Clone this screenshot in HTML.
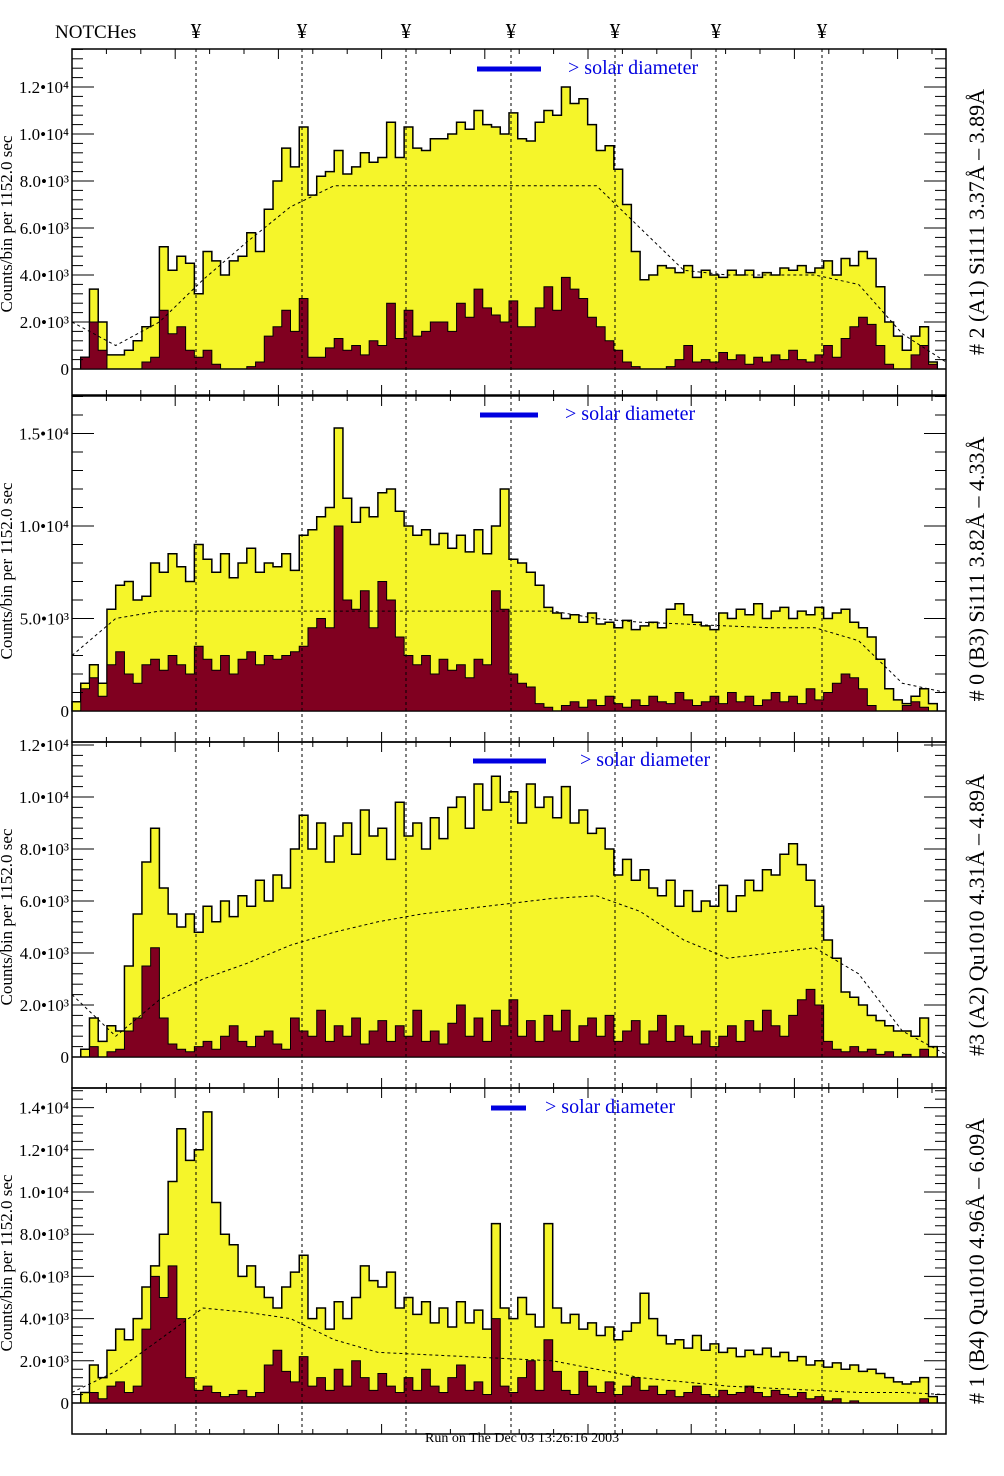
<!DOCTYPE html>
<html><head><meta charset="utf-8"><style>
body{margin:0;background:#fff}
svg{display:block;font-family:"Liberation Serif",serif}
</style></head><body>
<svg id="chart" width="1004" height="1476" viewBox="0 0 1004 1476" xmlns="http://www.w3.org/2000/svg">
<text x="55" y="38" font-size="19">NOTCHes</text>
<text x="425" y="1442" font-size="14">Run on The Dec 03 13:26:16 2003</text>
</svg>
<script>
const notches=[196,302,406,511,615,716,822];
const y1=[0,0.5,3.4,2.0,0.6,0.6,0.8,1.2,1.8,2.2,5.2,4.2,4.8,4.5,3.2,5.0,4.6,4.0,4.6,4.8,5.8,5.0,6.8,8.0,9.4,8.6,10.3,7.4,8.2,8.4,9.3,8.3,8.6,9.2,8.8,9.0,10.5,9.0,10.3,9.4,9.3,9.8,9.8,10.0,10.5,10.2,11.0,10.4,10.3,10.0,10.9,9.8,9.7,10.5,11.0,10.8,12.0,11.3,11.5,10.4,9.3,9.5,8.5,7.0,5.0,3.8,4.0,4.4,4.3,4.1,4.4,3.9,4.2,4.0,3.9,4.2,4.0,4.2,3.9,4.1,4.0,4.3,4.2,4.4,4.1,4.3,4.6,4.0,4.7,4.4,5.0,4.7,3.5,2.0,1.4,0.8,1.4,1.8,0.3,0];
const r1=[0,0.5,2.0,0.8,0,0,0,0,0.3,0.5,2.5,1.5,1.8,0.8,0.5,0.8,0.2,0,0,0,0.1,0.3,1.4,1.8,2.5,1.6,3.0,0.5,0.5,0.9,1.3,0.8,1.0,0.6,1.2,1.0,2.8,1.3,2.5,1.4,1.6,2.0,2.0,1.6,2.8,2.2,3.4,2.6,2.3,2.0,2.9,1.8,1.8,2.6,3.5,2.5,3.9,3.4,3.0,2.2,1.8,1.2,0.8,0.3,0.1,0,0,0,0.1,0.4,1.0,0.3,0.4,0.3,0.7,0.4,0.6,0.2,0.5,0.3,0.6,0.4,0.8,0.4,0.3,0.6,1.0,0.5,1.3,1.8,2.2,1.9,1.0,0.2,0,0,0.6,1.0,0.2,0];
const f1=[2.0,1.0,2.0,3.8,5.4,6.9,7.8,7.8,7.8,7.8,7.8,7.8,7.8,6.0,4.2,4.0,4.0,4.0,3.6,1.5,0.3];
const y2=[0.5,1.5,2.5,1.5,5.5,6.8,7.0,6.0,6.2,8.0,7.5,8.5,7.8,7.0,9.0,8.2,7.5,8.5,7.2,8.0,8.8,7.5,8.0,7.8,8.5,7.6,9.5,9.8,10.5,11.0,15.3,11.5,10.2,11.0,10.5,11.8,12.0,10.8,10.0,9.5,9.8,9.0,9.6,8.8,9.5,8.6,9.8,8.5,10.0,12.0,8.2,8.0,7.5,6.8,5.6,5.3,5.0,5.2,4.8,5.3,4.7,4.8,4.5,4.9,4.4,4.6,4.8,4.5,5.5,5.8,5.2,4.8,4.6,4.4,5.3,5.0,5.5,5.2,5.8,5.0,5.4,5.6,5.0,5.4,5.2,5.6,5.0,5.3,5.5,4.8,4.5,4.0,2.8,1.2,0.6,0.4,0.8,1.2,0.4,0];
const r2=[0,1.2,1.8,0.8,2.5,3.2,2.0,1.5,2.5,2.8,2.2,3.0,2.5,2.0,3.5,2.8,2.2,3.0,2.0,2.8,3.2,2.5,3.0,2.8,3.0,3.2,3.5,4.5,5.0,4.5,10.0,6.0,5.5,6.5,4.5,7.0,6.0,4.0,3.0,2.5,3.0,2.0,2.8,2.2,2.5,1.8,2.8,2.5,6.5,5.5,2.0,1.5,1.3,0.4,0.2,0,0.3,0.5,0.2,0.6,0.3,0.8,0.4,0.2,0.6,0.3,0.8,0.5,0.4,1.0,0.6,0.3,0.5,0.8,0.4,1.0,0.5,0.8,0.3,0.6,1.0,0.5,0.8,0.4,1.2,0.6,1.0,1.5,2.0,1.8,1.2,0.3,0,0,0,0.3,0.5,0.2,0,0];
const f2=[3.0,5.0,5.4,5.4,5.4,5.4,5.4,5.4,5.4,5.4,5.4,5.4,5.0,4.8,4.7,4.6,4.5,4.5,3.8,1.5,1.0];
const y3=[0,0.3,1.5,0.6,1.2,1.0,3.5,5.5,7.5,8.8,6.5,5.5,5.0,5.5,4.8,5.8,5.2,6.0,5.4,6.2,5.8,6.8,6.0,7.0,6.5,8.0,9.3,8.0,9.0,7.5,8.5,9.0,7.8,9.5,8.5,8.8,7.6,9.8,8.5,9.0,8.0,9.2,8.4,9.6,10.0,8.8,10.5,9.5,10.8,9.8,10.2,9.0,10.5,9.6,10.0,9.2,10.4,9.0,9.5,8.6,8.8,8.0,7.0,7.6,6.8,7.2,6.5,6.2,6.8,5.8,6.4,5.6,6.0,5.8,6.6,5.6,6.2,6.8,6.4,7.2,7.0,7.8,8.2,7.4,6.8,5.8,4.5,3.8,2.5,2.3,2.0,1.6,1.4,1.2,1.0,1.0,0.8,1.5,0.4,0];
const r3=[0,0,0.4,0,0.2,0.3,1.0,1.5,3.5,4.2,1.5,0.5,0.3,0.2,0.4,0.6,0.3,0.8,1.2,0.6,0.4,0.8,1.0,0.5,0.3,1.5,1.0,0.8,1.8,0.6,1.2,0.8,1.5,0.5,1.0,1.4,0.6,1.2,0.8,1.8,0.6,1.0,0.5,1.3,2.0,0.8,1.5,0.6,1.8,1.2,2.2,0.8,1.4,0.6,1.6,1.0,1.8,0.6,1.2,1.5,0.8,1.6,0.6,1.0,1.4,0.5,1.0,1.6,0.6,1.2,0.8,0.5,1.0,0.4,0.8,1.2,0.6,1.4,1.0,1.8,1.2,0.8,1.6,2.2,2.6,2.0,0.6,0.3,0.2,0.4,0.2,0.3,0.1,0.2,0,0.1,0,0.3,0,0];
const f3=[2.4,0.8,2.2,3.0,3.6,4.3,4.8,5.2,5.5,5.7,5.9,6.1,6.2,5.6,4.5,3.8,4.0,4.2,3.2,1.0,0.1];
const y4=[0,0.5,1.8,1.2,2.5,3.5,3.0,4.0,5.5,6.5,8.0,10.5,13.0,11.5,12.0,13.8,9.5,8.0,7.5,6.0,6.5,5.5,5.0,4.5,5.5,6.2,7.0,4.0,4.5,3.5,4.8,4.0,5.0,6.5,5.8,5.5,6.2,4.5,5.0,4.2,4.8,3.8,4.5,3.6,4.8,3.8,4.4,3.5,8.5,4.5,4.0,5.0,4.2,3.6,8.5,4.5,3.8,4.2,3.5,3.8,3.2,3.6,3.0,3.4,3.8,5.2,4.0,3.2,2.8,3.0,2.6,3.2,2.5,2.8,2.4,2.6,2.2,2.5,2.3,2.6,2.2,2.4,2.0,2.2,1.8,2.0,1.7,1.9,1.6,1.8,1.5,1.6,1.4,1.2,1.0,0.9,1.0,1.2,0.3,0];
const r4=[0,0,0.5,0.2,0.8,1.0,0.5,0.8,3.5,6.0,5.0,6.5,4.0,1.2,0.6,0.8,0.5,0.3,0.4,0.6,0.3,0.5,1.8,2.5,1.5,1.0,2.2,0.8,1.2,0.6,1.6,0.8,2.0,1.2,0.6,1.4,0.8,0.5,1.2,0.6,1.6,0.8,0.5,1.2,1.8,0.6,1.0,0.4,4.0,0.8,0.5,1.2,2.0,0.6,3.0,1.5,0.6,0.4,1.5,0.8,0.5,1.0,0.4,0.8,1.2,0.6,0.8,0.4,0.6,0.3,0.5,0.8,0.4,0.3,0.6,0.4,0.5,0.8,0.5,0.3,0.6,0.4,0.3,0.5,0.2,0.3,0.1,0.2,0,0.1,0,0,0,0,0,0,0,0.2,0,0];
const f4=[0.5,1.5,3.0,4.5,4.3,4.0,3.0,2.4,2.3,2.2,2.1,2.0,1.6,1.2,1.0,0.8,0.7,0.6,0.5,0.5,0.4];
const ticks1=["0","2.0•10³","4.0•10³","6.0•10³","8.0•10³","1.0•10⁴","1.2•10⁴"];
const tickVals1=[0,2,4,6,8,10,12];
const ticks2=["0","5.0•10³","1.0•10⁴","1.5•10⁴"];
const tickVals2=[0,5,10,15];
const ticks4=["0","2.0•10³","4.0•10³","6.0•10³","8.0•10³","1.0•10⁴","1.2•10⁴","1.4•10⁴"];
const tickVals4=[0,2,4,6,8,10,12,14];
const labels=["# 2 (A1) Si111  3.37Å – 3.89Å","# 0 (B3) Si111  3.82Å – 4.33Å","#3 (A2) Qu1010  4.31Å – 4.89Å","# 1 (B4) Qu1010 4.96Å – 6.09Å"];

const NS="http://www.w3.org/2000/svg";
const svg=document.getElementById('chart');
function mk(tag,attrs,parent){const e=document.createElementNS(NS,tag);for(const k in attrs)e.setAttribute(k,attrs[k]);(parent||svg).appendChild(e);return e;}
const X0=72,X1=946,NB=100;
const xs=i=>X0+(X1-X0)*i/NB;
const panels=[
 {top:49,zero:369,ppk:23.5,y:y1,r:r1,f:f1,tl:ticks1,tv:tickVals1,bar:[477,541,69],tx:568},
 {top:396,zero:711,ppk:18.5,y:y2,r:r2,f:f2,tl:ticks2,tv:tickVals2,bar:[480,538,415],tx:565},
 {top:742,zero:1057,ppk:26,y:y3,r:r3,f:f3,tl:ticks1,tv:tickVals1,bar:[473,546,761],tx:580},
 {top:1088,zero:1403,ppk:21.1,y:y4,r:r4,f:f4,tl:ticks4,tv:tickVals4,bar:[491,526,1108],tx:545}
];
notches.forEach((nx,k)=>{
  const t=mk('text',{x:nx,y:38,'font-size':21,'text-anchor':'middle'});t.textContent='¥';
  
  
});
panels.forEach((p,pi)=>{
  const g=mk('g',{});
  
  
  const bottom=p.top+346;
  const yv=v=>p.zero-v*p.ppk;
  function stepPath(arr){let d='M'+X0+','+p.zero;arr.forEach((v,i)=>{d+=' L'+xs(i)+','+yv(v)+' L'+xs(i+1)+','+yv(v);});d+=' L'+X1+','+p.zero+' Z';return d;}
  const py=mk('path',{d:stepPath(p.y),fill:'#f5f52a',stroke:'#000','stroke-width':1.5},g);
  
  
  const pr=mk('path',{d:stepPath(p.r),fill:'#800020',stroke:'#000','stroke-width':1},g);
  
  
  let fd='';p.f.forEach((v,i)=>{fd+=(i?' L':'M')+xs(i*5)+','+yv(v);});
  const pf=mk('path',{d:fd,fill:'none',stroke:'#000','stroke-width':1,'stroke-dasharray':'3,3'},g);
  
  
  notches.forEach(nx=>{const l=mk('line',{x1:nx,x2:nx,y1:p.top,y2:bottom,stroke:'#000','stroke-width':1,'stroke-dasharray':'3,3'},g);
    
    });
  const fr=mk('rect',{x:X0,y:p.top,width:X1-X0,height:346,fill:'none',stroke:'#000','stroke-width':1.5},g);
  
  
  for(let x=X0;x<=X1;x+=34.4){const big=Math.round((x-X0)/34.4)%3===0;const L=big?10:5;
    mk('line',{x1:x,x2:x,y1:p.top,y2:p.top+L,stroke:'#000'},g);mk('line',{x1:x,x2:x,y1:bottom,y2:bottom-L,stroke:'#000'},g);}
  const step=(p.tv[1]-p.tv[0])/5;const maxv=(p.zero-p.top)/p.ppk;
  for(let v=0;v<=maxv+1e-6;v+=step){const yy=yv(v);const major=Math.abs(v/(p.tv[1]-p.tv[0])-Math.round(v/(p.tv[1]-p.tv[0])))<1e-6;const L=major?22:11;
    mk('line',{x1:X0,x2:X0+L,y1:yy,y2:yy,stroke:'#000'},g);mk('line',{x1:X1,x2:X1-L,y1:yy,y2:yy,stroke:'#000'},g);}
  p.tl.forEach((s,i)=>{const t=mk('text',{x:69,y:yv(p.tv[i])+6,'font-size':17,'text-anchor':'end'},g);t.textContent=s;
    
    });
  const yt=mk('text',{x:0,y:0,'font-size':17,'text-anchor':'middle',transform:'translate(12,'+(p.top+175)+') rotate(-90)'},g);yt.textContent='Counts/bin per   1152.0 sec';
  
  
  const b=mk('line',{x1:p.bar[0],x2:p.bar[1],y1:p.bar[2],y2:p.bar[2],stroke:'#0000e0','stroke-width':5},g);
  
  
  const st=mk('text',{x:p.tx,y:p.bar[2]+5,'font-size':20,fill:'#0000e0'},g);st.textContent='> solar diameter';
  
  
  const rl=mk('text',{x:0,y:0,'font-size':22,'text-anchor':'middle',transform:'translate(984,'+(p.top+173)+') rotate(-90)'},g);rl.textContent=labels[pi];
  
  
});
</script>
</body></html>
